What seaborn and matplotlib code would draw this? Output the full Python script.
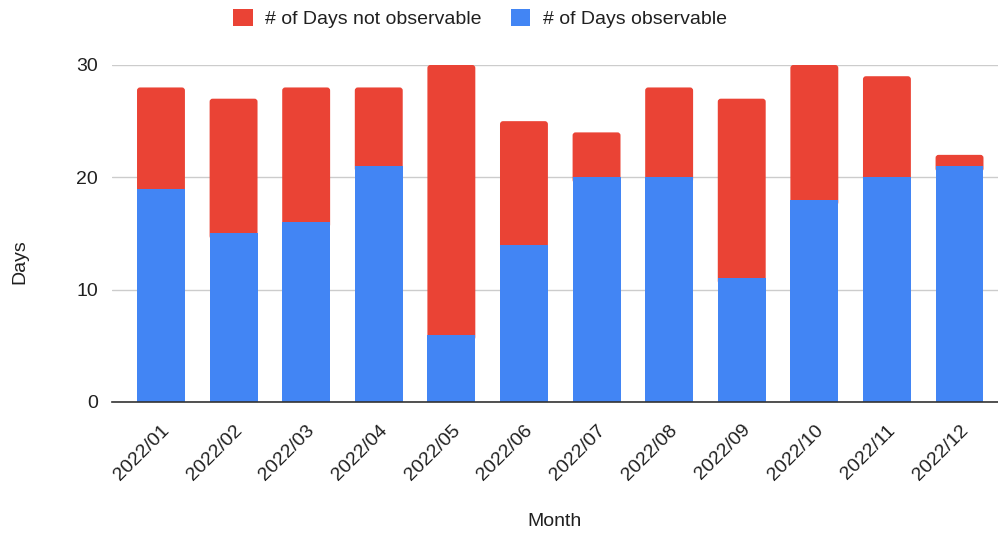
import matplotlib
matplotlib.use("Agg")
import matplotlib.pyplot as plt
from matplotlib.patches import Patch, FancyBboxPatch
import seaborn as sns
import pandas as pd

months = ["2022/01", "2022/02", "2022/03", "2022/04", "2022/05", "2022/06",
          "2022/07", "2022/08", "2022/09", "2022/10", "2022/11", "2022/12"]
observable = [19, 15, 16, 21, 6, 14, 20, 20, 11, 18, 20, 21]
not_observable = [9, 12, 12, 7, 24, 11, 4, 8, 16, 12, 9, 1]
y_ticks = [0, 10, 20, 30]

RED = "#EA4335"
BLUE = "#4285F4"
TEXT = "#202020"

sns.set_theme(style="white")
plt.rcParams["font.family"] = ["Liberation Sans", "DejaVu Sans"]

df = pd.DataFrame({"Month": months,
                   "observable": observable,
                   "not_observable": not_observable})
df["total"] = df["observable"] + df["not_observable"]

fig = plt.figure(figsize=(9.98, 5.38), dpi=100)
ax = fig.add_axes([0.1122, 0.2528, 0.8878, 0.6264])

# stacked bars: full height in red, observable part in blue on top
sns.barplot(data=df, x="Month", y="total", color=RED, width=0.66,
            saturation=1, linewidth=0, ax=ax, zorder=2)
red_bars = list(ax.patches)
sns.barplot(data=df, x="Month", y="observable", color=BLUE, width=0.66,
            saturation=1, linewidth=0, ax=ax, zorder=3)
blue_bars = [p for p in ax.patches if p not in red_bars]
ax.set_ylim(0, 30)
ax.set_xlim(-0.675, 11.53)

# red segments start just under the blue tops (hidden overlap) and get
# softly rounded top corners
fig.canvas.draw()
px_x = abs(ax.transData.transform((1, 0))[0] - ax.transData.transform((0, 0))[0])
px_y = abs(ax.transData.transform((0, 1))[1] - ax.transData.transform((0, 0))[1])
radius_px = 3.0
overlap = 0.5
for bar, base in zip(red_bars, blue_bars):
    x, w = bar.get_x(), bar.get_width()
    top = bar.get_y() + bar.get_height()
    y0 = base.get_height() - overlap
    rounded = FancyBboxPatch((x, y0), w, top - y0,
                             boxstyle=f"round,pad=0,rounding_size={radius_px / px_x}",
                             mutation_aspect=px_x / px_y,
                             facecolor=RED, edgecolor="none", zorder=2)
    bar.remove()
    ax.add_patch(rounded)

ax.set_yticks(y_ticks)
ax.set_yticklabels([str(t) for t in y_ticks], fontsize=14, color=TEXT)
ax.yaxis.grid(True, color="#cccccc", linewidth=1, zorder=0)
ax.set_axisbelow(True)
for s in ["top", "right", "left"]:
    ax.spines[s].set_visible(False)
ax.spines["bottom"].set_color("#333333")
ax.spines["bottom"].set_linewidth(1.2)
ax.spines["bottom"].set_zorder(4)
ax.tick_params(axis="y", length=0, pad=10)
ax.tick_params(axis="x", length=0, pad=14)
plt.setp(ax.get_xticklabels(), rotation=45, ha="right", va="top",
         rotation_mode="anchor", fontsize=14, color=TEXT)

ax.set_xlabel("Month", fontsize=14, color=TEXT)
ax.set_ylabel("Days", fontsize=14, color=TEXT)
ax.xaxis.set_label_coords(0.5, -0.33)
ax.yaxis.set_label_coords(-0.094, 0.418)

handles = [Patch(facecolor=RED, edgecolor="none", label="# of Days not observable"),
           Patch(facecolor=BLUE, edgecolor="none", label="# of Days observable")]
fig.legend(handles=handles, loc="upper center", bbox_to_anchor=(0.481, 1.016),
           ncol=2, frameon=False, fontsize=14, handlelength=1.0,
           handleheight=1.0, columnspacing=1.5, handletextpad=0.65,
           labelcolor=TEXT)

fig.savefig("out.png", dpi=100)
